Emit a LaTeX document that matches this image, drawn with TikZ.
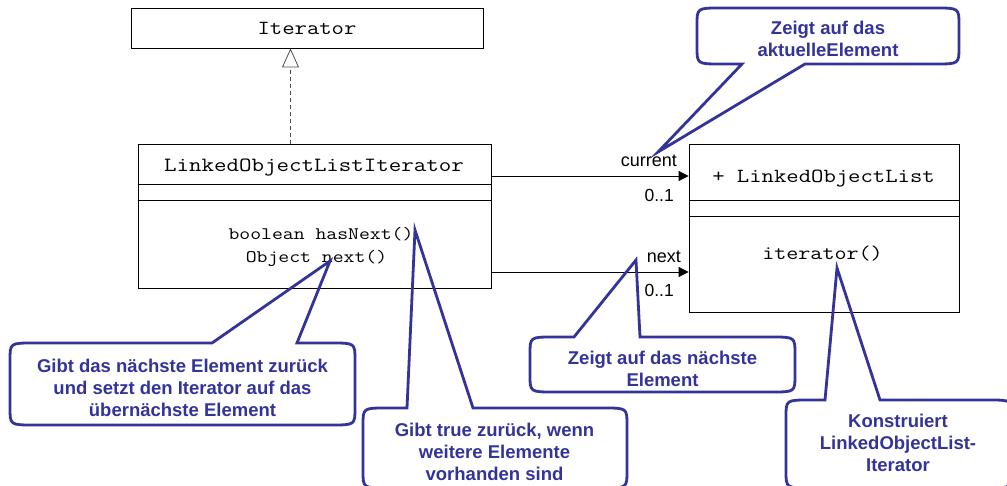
\documentclass[tikz,border=0pt]{standalone}
\usepackage{fontspec}
\setmainfont{Liberation Sans}
\newfontfamily\courfont[FakeStretch=1.2]{Latin Modern Mono}
\usetikzlibrary{arrows.meta}
\definecolor{cb}{RGB}{51,51,153}
\newcommand\calltop[8]{% L T R B b1 b2 tipx tipy
  \draw[callout] (#5,#2) -- (#7,#8) -- (#6,#2) -- ({#3-24},#2) .. controls (#3,#2) .. (#3,{#2+17})
   -- (#3,{#4-17}) .. controls (#3,#4) .. ({#3-24},#4) -- ({#1+24},#4) .. controls (#1,#4) .. (#1,{#4-17})
   -- (#1,{#2+17}) .. controls (#1,#2) .. ({#1+24},#2) -- cycle;}
\begin{document}
\begin{tikzpicture}[x=1pt,y=-1pt,
  umlbox/.style={draw, line width=0.8pt, inner sep=0pt},
  callout/.style={draw=cb, line width=2.8pt, line join=miter},
  ctext/.style={text=cb, font=\bfseries\fontsize{18.5}{22}\selectfont, align=center, inner sep=0pt},
  mono/.style={font=\courfont\fontsize{#1}{#1}\selectfont, inner sep=0pt, anchor=base},
  lab/.style={font=\fontsize{#1}{#1}\selectfont, inner sep=0pt, anchor=base east},
  assoc/.style={line width=0.8pt, -{Triangle[length=10pt,width=10pt]}},
  realize/.style={line width=0.8pt, black!70, dash pattern=on 4pt off 3pt, -{Triangle[open,length=19pt,width=17pt]}}
]
\useasboundingbox (0,0) rectangle (1007,486);
\clip (0,0) rectangle (1007,486);
% UML boxes
\node[umlbox, minimum width=352pt, minimum height=40pt] (iter) at (307,28) {};
\node[mono=20] (itertxt) at (307,35) {Iterator};
\node[umlbox, minimum width=353pt, minimum height=144pt] (loli) at (314.5,216) {};
\draw[line width=0.8pt] (loli.west |- 0,184) -- (loli.east |- 0,184);
\draw[line width=0.8pt] (loli.west |- 0,200) -- (loli.east |- 0,200);
\node[mono=20.2] (lolitxt) at (314,172) {LinkedObjectListIterator};
\node[mono=17.6] (m1) at (321,240) {boolean hasNext()};
\node[mono=17.6] (m2) at (316.5,263) {Object next()};
\node[umlbox, minimum width=270pt, minimum height=168pt] (lol) at (824,228) {};
\draw[line width=0.8pt] (lol.west |- 0,200) -- (lol.east |- 0,200);
\draw[line width=0.8pt] (lol.west |- 0,216) -- (lol.east |- 0,216);
\node[mono=20] (loltxt) at (823.5,183) {+ LinkedObjectList};
\node[mono=19.5] (m3) at (822.5,260) {iterator()};
% connectors
\coordinate (rs) at (290.5,144);
\coordinate (re) at (290.5,48);
\draw[realize] (loli.north -| rs) -- (iter.south -| re);
\draw[assoc] (loli.east |- 0,176) -- (lol.west |- 0,176);
\draw[assoc] (loli.east |- 0,272) -- (lol.west |- 0,272);
\node[lab=18] (cur) at (677,167) {current};
\node[lab=17.5] (c1) at (674,202) {0..1};
\node[lab=18] (nx) at (681,263) {next};
\node[lab=17.5] (c2) at (674,297) {0..1};
% callouts
\draw[callout] (805,64) -- (658,152) -- (742,64) -- (721,64) .. controls (697,64) .. (697,47)
   -- (697,25) .. controls (697,8) .. (721,8) -- (935,8) .. controls (959,8) .. (959,25)
   -- (959,47) .. controls (959,64) .. (935,64) -- cycle;
\node[ctext] (t1) at (828,39) {Zeigt auf das\\aktuelleElement};
\calltop{10}{343}{355}{425}{212}{297}{330}{261}
\node[ctext] (t2) at (182.5,388) {Gibt das nächste Element zurück\\und setzt den Iterator auf das\\übernächste Element};
\calltop{363}{408}{627}{488}{407}{473}{415}{230}
\node[ctext] (t3) at (494.5,451.5) {Gibt true zurück, wenn\\weitere Elemente\\vorhanden sind};
\calltop{530}{337}{795}{392}{574}{640}{636}{260}
\node[ctext] (t4) at (662.5,369) {Zeigt auf das nächste\\Element};
\calltop{786}{400}{1012}{488}{825}{880}{837}{268}
\node[ctext] (t5) at (898,443) {Konstruiert\\LinkedObjectList-\\Iterator};
\end{tikzpicture}
\end{document}
